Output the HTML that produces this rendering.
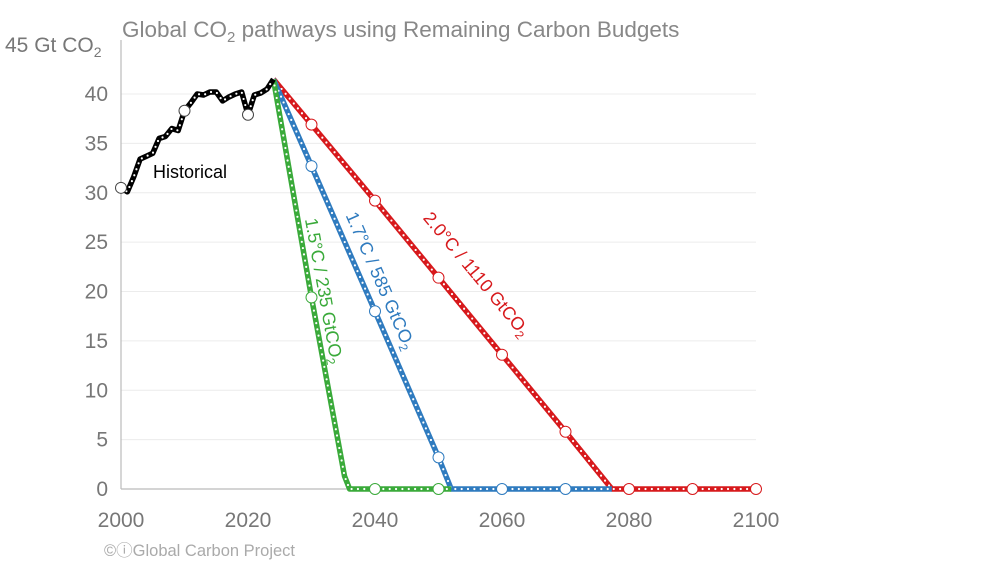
<!DOCTYPE html>
<html><head><meta charset="utf-8"><style>
body{margin:0;background:#fff;}
svg{display:block;font-family:"Liberation Sans",Arial,sans-serif;}
</style></head><body>
<svg id="chart" width="1000" height="563" viewBox="0 0 1000 563" xmlns="http://www.w3.org/2000/svg">
<text x="122" y="37" font-size="22.5" fill="#888">Global CO<tspan font-size="15" dy="5">2</tspan><tspan dy="-5"> pathways using Remaining Carbon Budgets</tspan></text>
<g id="grid"></g><g id="axes"></g><g id="series"></g><g id="labels"></g>
<text x="104" y="556" font-size="16.5" fill="#aaa">©ⓘGlobal Carbon Project</text>
</svg>
<script>
const yTicks=[0,5,10,15,20,25,30,35,40];
const xTicks=[2000,2020,2040,2060,2080,2100];
const histYears=[2000,2001,2002,2003,2004,2005,2006,2007,2008,2009,2010,2011,2012,2013,2014,2015,2016,2017,2018,2019,2020,2021,2022,2023,2024];
const histValues=[30.5,30.1,31.6,33.4,33.7,34.0,35.5,35.7,36.5,36.3,38.3,39.1,40.0,39.9,40.2,40.2,39.3,39.7,40.0,40.2,37.9,39.9,40.1,40.5,41.5];
const histMarkerYears=[2000,2010,2020];
const greenYears=[2024,2030,2035.2,2036,2052];
const greenValues=[41.5,19.4,1.3,0,0];
const blueYears=[2024,2030,2040,2050,2052,2077.3];
const blueValues=[41.5,32.7,18.0,3.2,0,0];
const redYears=[2024,2030,2040,2050,2060,2070,2077.3,2100];
const redValues=[41.5,36.9,29.2,21.4,13.6,5.8,0,0];
const markerYears=[2030,2040,2050,2060,2070,2080,2090,2100];
const NS="http://www.w3.org/2000/svg";
const xs=y=>121+(y-2000)*6.35;
const ys=v=>489-v*9.875;
function mk(t,a,parent){const e=document.createElementNS(NS,t);for(const k in a)e.setAttribute(k,a[k]);document.getElementById(parent).appendChild(e);return e;}
yTicks.forEach(v=>{
 if(v>0){const g=mk('line',{x1:121,x2:756,y1:ys(v),y2:ys(v),stroke:'#ececec','stroke-width':1},'grid');
 
 }
 const t=mk('text',{x:108,y:ys(v)+7,'font-size':21,fill:'#777','text-anchor':'end'},'axes');t.textContent=v;
 
 
});
const yt=mk('text',{x:5,y:52,'font-size':21,fill:'#777'},'axes');yt.innerHTML='45 Gt CO<tspan font-size="14" dy="5">2</tspan>';


const ya=mk('line',{x1:121,x2:121,y1:40,y2:489,stroke:'#bbb','stroke-width':1.2},'axes');


const xa=mk('line',{x1:121,x2:756,y1:489,y2:489,stroke:'#bbb','stroke-width':1.2},'axes');


xTicks.forEach(y=>{const t=mk('text',{x:xs(y),y:527,'font-size':21,fill:'#777','text-anchor':'middle'},'axes');t.textContent=y;
 
 });
function series(years,vals,color,name,mYears){
 const d=years.map((y,i)=>(i?'L':'M')+xs(y)+','+ys(vals[i])).join(' ');
 const p=mk('path',{d:d,fill:'none',stroke:color,'stroke-width':5.5,'stroke-linejoin':'round'},'series');
 
 
 const p2=mk('path',{d:d,fill:'none',stroke:'#fff','stroke-width':2.2,'stroke-dasharray':'0 6.35','stroke-linecap':'round'},'series');
 
 
 mYears.forEach(my=>{
  let v=null;for(let i=0;i<years.length-1;i++){if(my>=years[i]&&my<=years[i+1]){v=vals[i]+(vals[i+1]-vals[i])*(my-years[i])/(years[i+1]-years[i]);break;}}
  if(v===null)return;
  const c=mk('circle',{cx:xs(my),cy:ys(v),r:5.5,fill:'#fff',stroke:color==='#000'?'#444':color,'stroke-width':1},'series');
  
  
 });
}
series(redYears,redValues,'#d7191c','red-2c',markerYears);
series(blueYears,blueValues,'#2f7bbf','blue-1-7c',markerYears);
series(greenYears,greenValues,'#3aaa3a','green-1-5c',markerYears);
series(histYears,histValues,'#000','historical',histMarkerYears);
function label(x,y,ang,color,txt,name){
 const t=mk('text',{x:0,y:0,transform:`translate(${x},${y}) rotate(${ang})`,'font-size':18,fill:color,'text-anchor':'middle'},'labels');
 t.innerHTML=txt;
 
 
}
label(190,178,0,'#000','Historical','historical-label');
label(318,292,79.8,'#3aaa3a','1.5°C / 235 GtCO<tspan font-size="12" dy="4">2</tspan>','green-label');
label(375,283,66.4,'#2f7bbf','1.7°C / 585 GtCO<tspan font-size="12" dy="4">2</tspan>','blue-label');
label(472,278,50.3,'#d7191c','2.0°C / 1110 GtCO<tspan font-size="12" dy="4">2</tspan>','red-label');
</script>
</body></html>
